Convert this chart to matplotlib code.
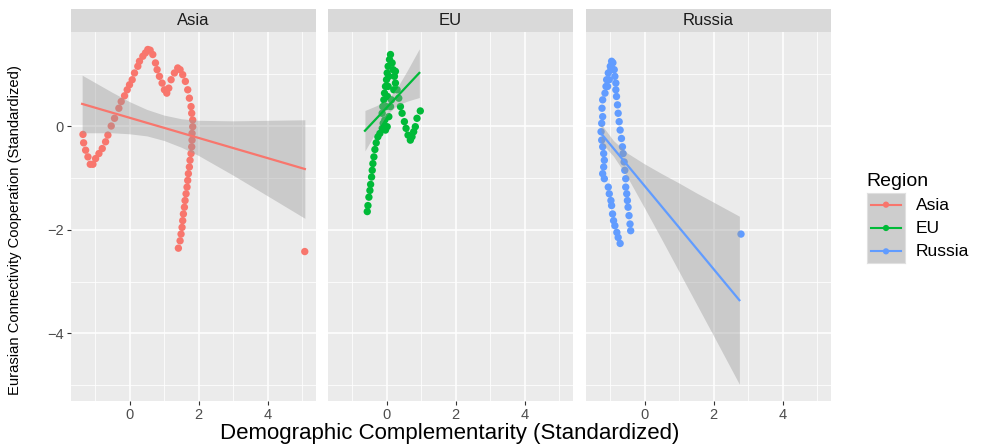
import numpy as np
import matplotlib.pyplot as plt

plt.rcParams['font.family'] = ['Liberation Sans', 'DejaVu Sans']

regions = ['Asia', 'EU', 'Russia']
colors = {'Asia': '#F8766D', 'EU': '#00BA38', 'Russia': '#619CFF'}

# scatter values
asia_x = [-1.346, -1.327, -1.269, -1.202, -1.135, -1.058, -0.981, -0.885, -0.788, -0.692,
          -0.625, -0.529, -0.433, -0.308, -0.240, -0.144, -0.067, 0.0, 0.077, 0.144,
          0.240, 0.288, 0.385, 0.462, 0.529, 0.596, 0.673, 0.750, 0.798, 0.865,
          0.942, 1.010, 1.077, 1.135, 1.202, 1.298, 1.394, 1.462, 1.538, 1.615,
          1.683, 1.731, 1.779, 1.798, 1.827, 1.827, 1.808, 1.808, 1.798, 1.779,
          1.750, 1.731, 1.702, 1.683, 1.663, 1.635, 1.606, 1.587, 1.558, 1.538,
          1.519, 1.490, 1.462, 1.413, 5.067]
asia_y = [-0.162, -0.324, -0.466, -0.595, -0.738, -0.738, -0.628, -0.531, -0.434, -0.304,
          -0.175, 0.0, 0.149, 0.343, 0.472, 0.583, 0.699, 0.796, 0.893, 1.023,
          1.152, 1.249, 1.346, 1.411, 1.476, 1.463, 1.379, 1.217, 1.087, 0.958,
          0.828, 0.699, 0.634, 0.731, 0.893, 1.023, 1.120, 1.087, 0.990, 0.861,
          0.699, 0.537, 0.375, 0.246, 0.117, -0.013, -0.142, -0.272, -0.401, -0.531,
          -0.660, -0.790, -0.919, -1.049, -1.178, -1.307, -1.437, -1.566, -1.696, -1.825,
          -1.955, -2.084, -2.214, -2.356, -2.421]

eu_x = [-0.557, -0.537, -0.509, -0.480, -0.460, -0.432, -0.413, -0.394, -0.365, -0.336,
        -0.298, -0.250, -0.193, -0.126, -0.097, -0.126, -0.107, -0.077, -0.058, -0.030,
        0.0, 0.019, 0.047, 0.086, 0.115, 0.162, 0.191, 0.229, 0.258, 0.306,
        0.354, 0.402, 0.450, 0.517, 0.565, 0.622, 0.689, 0.737, 0.785, 0.833,
        0.881, 0.977, 0.258, 0.143, 0.115, 0.067, 0.019, -0.030, 0.210, 0.067,
        0.047, 0.028, -0.010, -0.049]
eu_y = [-1.650, -1.534, -1.372, -1.243, -1.126, -0.984, -0.854, -0.725, -0.595, -0.453,
        -0.324, -0.207, -0.142, -0.045, 0.052, 0.246, 0.375, 0.505, 0.634, 0.764,
        0.893, 1.023, 1.152, 1.282, 1.379, 1.217, 1.087, 0.958, 0.828, 0.699,
        0.537, 0.375, 0.246, 0.084, -0.045, -0.175, -0.272, -0.207, -0.110, -0.013,
        0.149, 0.291, 1.055, 0.505, 0.375, 0.181, -0.013, -0.078, 0.699, 0.958,
        0.764, 0.570, 0.375, 0.117]

russia_x = [-0.952, -0.990, -1.048, -1.095, -1.114, -1.143, -1.210, -1.229, -1.210, -1.238,
            -1.257, -1.238, -1.210, -1.181, -1.162, -1.181, -1.210, -1.162, -1.048, -1.019,
            -0.971, -0.952, -0.924, -0.895, -0.857, -0.800, -0.762, -0.705,
            -0.876, -0.857, -0.829, -0.829, -0.810, -0.781, -0.762, -0.733, -0.705, -0.667,
            -0.638, -0.619, -0.590, -0.571, -0.543, -0.543, -0.514, -0.495, -0.476, -0.448,
            -0.419, -0.400, -0.914, -0.971, -1.019, -1.067, 2.790]
russia_y = [1.249, 1.152, 1.023, 0.893, 0.764, 0.634, 0.505, 0.343, 0.181, 0.052,
            -0.110, -0.272, -0.401, -0.531, -0.660, -0.790, -0.919, -1.016, -1.178, -1.307,
            -1.437, -1.534, -1.696, -1.825, -1.922, -2.052, -2.149, -2.265,
            1.087, 0.958, 0.828, 0.699, 0.570, 0.408, 0.246, 0.084, -0.078, -0.240,
            -0.401, -0.531, -0.693, -0.854, -1.016, -1.178, -1.307, -1.437, -1.566, -1.728,
            -1.890, -2.019, 1.220, 1.087, 0.893, 0.764, -2.084]

# linear fit and its confidence band
asia_fit_x = [-1.37, -0.5, 0.0, 0.5, 1.0, 1.5, 2.0, 3.0, 4.0, 5.07]
asia_fit_y = [0.427, 0.257, 0.160, 0.062, -0.035, -0.133, -0.230, -0.425, -0.620, -0.829]
asia_fit_lo = [-0.13, -0.13, -0.15, -0.19, -0.28, -0.41, -0.57, -0.95, -1.35, -1.78]
asia_fit_hi = [0.98, 0.65, 0.47, 0.32, 0.21, 0.14, 0.11, 0.10, 0.11, 0.12]

eu_fit_x = [-0.624, -0.3, 0.0, 0.3, 0.6, 0.948]
eu_fit_y = [-0.091, 0.139, 0.351, 0.564, 0.777, 1.024]
eu_fit_lo = [-0.48, -0.11, 0.21, 0.40, 0.48, 0.55]
eu_fit_hi = [0.30, 0.39, 0.49, 0.73, 1.07, 1.49]

russia_fit_x = [-1.257, -0.9, -0.5, 0.0, 0.5, 1.0, 1.5, 2.0, 2.743]
russia_fit_y = [-0.142, -0.429, -0.751, -1.153, -1.555, -1.957, -2.359, -2.761, -3.359]
russia_fit_lo = [-0.32, -0.58, -0.98, -1.58, -2.19, -2.81, -3.43, -4.05, -4.98]
russia_fit_hi = [0.04, -0.28, -0.52, -0.73, -0.92, -1.10, -1.29, -1.47, -1.74]

points = {'Asia': (asia_x, asia_y), 'EU': (eu_x, eu_y), 'Russia': (russia_x, russia_y)}
fits = {'Asia': (asia_fit_x, asia_fit_y, asia_fit_lo, asia_fit_hi),
        'EU': (eu_fit_x, eu_fit_y, eu_fit_lo, eu_fit_hi),
        'Russia': (russia_fit_x, russia_fit_y, russia_fit_lo, russia_fit_hi)}

x_ticks = [0, 2, 4]
y_ticks = [0, -2, -4]

# ggplot-like 5% expansion on the shared scales
all_x = np.concatenate([np.array(points[r][0]) for r in regions] + [np.array(fits[r][0]) for r in regions])
all_y = np.concatenate([np.array(points[r][1]) for r in regions]
                       + [np.array(fits[r][2]) for r in regions] + [np.array(fits[r][3]) for r in regions])
pad_x = 0.05 * (all_x.max() - all_x.min())
pad_y = 0.05 * (all_y.max() - all_y.min())
xlim = (all_x.min() - pad_x, all_x.max() + pad_x)
ylim = (all_y.min() - pad_y, all_y.max() + pad_y)

W, H = 991, 444
fig = plt.figure(figsize=(W / 100, H / 100), dpi=100)
panel_left = [71, 328, 586]
panel_w = 245
top_px, bottom_px, strip_px = 32, 401, 23

for i, reg in enumerate(regions):
    ax = fig.add_axes([panel_left[i] / W, 1 - bottom_px / H, panel_w / W, (bottom_px - top_px) / H])
    ax.set_facecolor('#EBEBEB')
    ax.set_xlim(xlim)
    ax.set_ylim(ylim)
    for s in ax.spines.values():
        s.set_visible(False)
    ax.set_xticks(x_ticks)
    ax.set_yticks(y_ticks)
    ax.set_xticks([-1, 1, 3, 5], minor=True)
    ax.set_yticks([1, -1, -3, -5], minor=True)
    ax.grid(True, which='major', color='white', lw=1.1)
    ax.grid(True, which='minor', color='white', lw=0.55)
    ax.set_axisbelow(True)
    ax.tick_params(which='minor', length=0)
    ax.tick_params(which='major', length=3, width=0.8, color='#333333', labelcolor='#4D4D4D',
                   labelsize=10.5, pad=2)
    if i > 0:
        ax.tick_params(axis='y', length=0, labelleft=False)

    px, py = points[reg]
    ax.scatter(px, py, s=28, color=colors[reg], edgecolors='none', zorder=2)
    fx, fy, flo, fhi = fits[reg]
    ax.fill_between(fx, flo, fhi, color='#999999', alpha=0.4, lw=0, zorder=3)
    ax.plot(fx, fy, color=colors[reg], lw=1.6, zorder=4)

    sax = fig.add_axes([panel_left[i] / W, 1 - top_px / H, panel_w / W, strip_px / H])
    sax.set_facecolor('#D9D9D9')
    sax.set_xticks([])
    sax.set_yticks([])
    for s in sax.spines.values():
        s.set_visible(False)
    sax.text(0.5, 0.48, reg, ha='center', va='center', fontsize=12, color='#1A1A1A',
             transform=sax.transAxes)

fig.text(450 / W, 1 - 433 / H, 'Demographic Complementarity (Standardized)', ha='center', va='center',
         fontsize=16, color='black')
fig.text(15 / W, 1 - 230 / H, 'Eurasian Connectivity Cooperation (Standardized)', ha='center', va='center',
         rotation=90, fontsize=10.6, color='black')

# legend
lax = fig.add_axes([867 / W, 1 - 263 / H, 38 / W, 70 / H])
lax.set_facecolor('#CDCDCD')
lax.set_xlim(0, 1)
lax.set_ylim(0, 3)
lax.set_xticks([])
lax.set_yticks([])
for s in lax.spines.values():
    s.set_color('#E0E0E0')
for k, reg in enumerate(regions):
    yk = 2.5 - k
    lax.plot([0.1, 0.9], [yk, yk], color=colors[reg], lw=1.5)
    lax.scatter([0.5], [yk], s=20, color=colors[reg], edgecolors='none')
    fig.text(916 / W, 1 - (205 + 23 * k) / H, reg, ha='left', va='center', fontsize=12.5, color='black')
fig.text(866 / W, 1 - 181 / H, 'Region', ha='left', va='center', fontsize=14, color='black')

fig.savefig('out.png', dpi=100)
